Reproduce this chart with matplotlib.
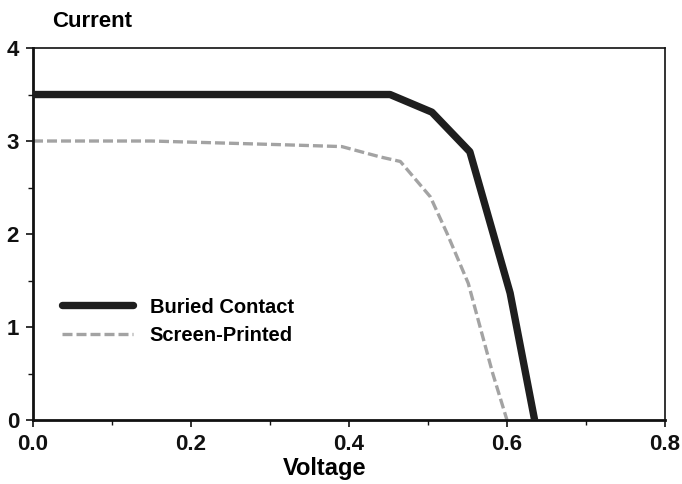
import matplotlib
matplotlib.use("Agg")
import matplotlib.pyplot as plt
from matplotlib.ticker import MultipleLocator

plt.rcParams['font.family'] = ['Liberation Sans', 'DejaVu Sans']

# Data
buried_v = [0.0, 0.452, 0.505, 0.553, 0.604, 0.635]
buried_i = [3.50, 3.50, 3.31, 2.885, 1.365, 0.0]

screen_v = [0.0, 0.15, 0.316, 0.354, 0.391, 0.439, 0.465, 0.503, 0.524, 0.551, 0.566, 0.582, 0.600]
screen_i = [3.00, 3.00, 2.96, 2.95, 2.94, 2.83, 2.78, 2.40, 2.01, 1.47, 1.00, 0.50, 0.0]

x_ticks = [0.0, 0.2, 0.4, 0.6, 0.8]
y_ticks = [0, 1, 2, 3, 4]

fig = plt.figure(figsize=(6.82, 4.84), dpi=100)
ax = fig.add_axes([0.0484, 0.1322, 0.9266, 0.7686])

ax.plot(buried_v, buried_i, color='#1e1e1e', lw=5.3, solid_capstyle='round',
        solid_joinstyle='round', label='Buried Contact', zorder=3)
ax.plot(screen_v, screen_i, color='#a3a3a3', lw=2.4, dashes=(3.0, 1.2),
        label='Screen-Printed', zorder=2)

ax.set_xlim(0, 0.8)
ax.set_ylim(0, 4)
ax.set_xticks(x_ticks)
ax.set_xticklabels([f"{v:.1f}" for v in x_ticks])
ax.set_yticks(y_ticks)
ax.set_yticklabels([str(v) for v in y_ticks])
ax.xaxis.set_minor_locator(MultipleLocator(0.1))
ax.yaxis.set_minor_locator(MultipleLocator(0.5))

for lbl in ax.get_xticklabels() + ax.get_yticklabels():
    lbl.set_fontweight('bold')
    lbl.set_fontsize(16)

ax.tick_params(axis='both', which='major', direction='out', length=5, width=1.2, colors='#111111')
ax.tick_params(axis='both', which='minor', direction='out', length=3.5, width=1.0, colors='#111111')
ax.tick_params(axis='x', which='major', pad=5)
ax.tick_params(axis='y', which='major', pad=5)

for s in ['left', 'bottom']:
    ax.spines[s].set_linewidth(2.0)
    ax.spines[s].set_color('#111111')
for s in ['top', 'right']:
    ax.spines[s].set_linewidth(1.2)
    ax.spines[s].set_color('#111111')

ax.set_xlabel('Voltage', fontsize=17, fontweight='bold', va='top')
ax.xaxis.set_label_coords(0.462, -0.1)
fig.text(0.0762, 0.944, 'Current', fontsize=16, fontweight='bold', ha='left', va='baseline')

leg = ax.legend(loc='center left', bbox_to_anchor=(0.030, 0.266), frameon=False,
                borderpad=0, handlelength=3.5, handletextpad=0.85, labelspacing=0.45,
                prop={'weight': 'bold', 'size': 14.5})

fig.savefig('out.png', dpi=100, facecolor='white')
